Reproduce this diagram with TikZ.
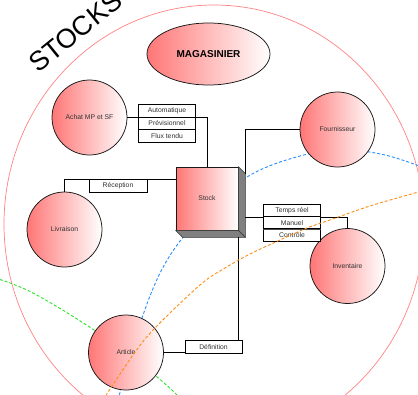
\documentclass[tikz,border=0pt]{standalone}
\usepackage{fontspec}
\setmainfont{Liberation Sans}
\usetikzlibrary{shapes.geometric}
\definecolor{pinkc}{RGB}{255,118,118}
\definecolor{ringc}{RGB}{255,130,130}
\definecolor{dblue}{RGB}{40,140,255}
\definecolor{dorange}{RGB}{255,140,20}
\definecolor{dgreen}{RGB}{40,230,40}
\definecolor{txtc}{RGB}{50,50,50}
\begin{document}
\begin{tikzpicture}[x=1pt,y=-1pt,
  bub/.style={circle,draw=black!90,line width=0.75pt,left color=pinkc,right color=white,
    minimum size=75pt,inner sep=0pt,font=\fontsize{6.8}{8}\selectfont,text=txtc},
  lbl/.style={rectangle,draw=black,fill=white,line width=0.7pt,minimum width=57pt,
    minimum height=12.4pt,inner sep=0pt,font=\fontsize{6.8}{8}\selectfont,text=txtc},
  conn/.style={line width=0.75pt,black},
  panel/.style={draw=black!80,fill=black!50,line width=0.6pt,line join=round},
  dsh/.style={line width=0.9pt,dash pattern=on 3pt off 2pt},
  ring/.style={draw=ringc,line width=0.7pt}]
\useasboundingbox (0,0) rectangle (418,394);
\clip (0,0) rectangle (418,394);
% outer ring
\draw[ring] (214,224) ellipse [x radius=210pt, y radius=219pt];
\node[anchor=base west,rotate=39,font=\fontsize{27}{30}\selectfont,inner sep=0pt] (stocks) at (38,74) {STOCKS};
% background dashed arcs
\draw[dsh,dblue] plot[smooth,tension=0.6] coordinates {(118,400) (142,318) (166,262) (200,218) (247,177) (300,156) (345,150) (385,155) (422,167)};
\draw[dsh,dgreen] plot[smooth,tension=0.6] coordinates {(-5,278) (33,293) (97,332) (157,377) (182,400)};
% nodes
\node[ellipse,draw=black!90,line width=0.75pt,left color=pinkc,right color=white,minimum width=123pt,minimum height=62pt,inner sep=0pt,font=\bfseries\fontsize{10}{12}\selectfont] (mag) at (208.5,54) {MAGASINIER};
\node[bub] (achat) at (89.5,117.5) {Achat MP et SF};
\node[bub] (fourn) at (337.5,129.5) {Fournisseur};
\node[bub] (livraison) at (64.5,229.5) {Livraison};
\node[bub] (inv) at (347.5,266) {Inventaire};
\node[bub] (article) at (126,352.5) {Article};
\node[rectangle,draw=black!90,line width=0.75pt,left color=pinkc,right color=white,minimum width=62pt,minimum height=63pt,inner sep=0pt,font=\fontsize{6.8}{8}\selectfont,text=txtc] (stock) at (207,198.5) {Stock};
\draw[panel] (stock.north east) -- ++(7,7) -- ([shift={(7,7)}]stock.south east) -- (stock.south east) -- cycle;
\draw[panel] (stock.south west) -- ++(7,7) -- ([shift={(7,7)}]stock.south east) -- (stock.south east) -- cycle;
\coordinate (sidetop) at ([shift={(7,7)}]stock.north east);
\coordinate (sidein) at ([xshift=7pt,yshift=-18.5pt]stock.east);
\coordinate (botdef) at ([shift={(0,7)}]stock.south east);
\coordinate (recin) at ([yshift=-13pt]stock.north west);
% connectors
\draw[conn] (achat.east) -| (stock.north);
\draw[conn] (livraison.north) |- (recin);
\draw[conn] (fourn.west) -| (sidetop);
\draw[conn] (sidein) -| (inv.north);
\draw[conn] (article.east) -| (botdef);
% labels
\node[lbl] (auto) at (167,111) {Automatique};
\node[lbl] (prev) at (167,123.4) {Prévisionnel};
\node[lbl] (flux) at (167,135.8) {Flux tendu};
\node[lbl,minimum height=12.2pt] (temps) at (292,210.5) {Temps réel};
\node[lbl,minimum height=12.2pt] (manuel) at (292,222.8) {Manuel};
\node[lbl,minimum height=12.2pt] (controle) at (292,234.9) {Contrôle};
\draw[line width=1.5pt,black!70] (manuel.south west) -- (manuel.south east);
\node[lbl,minimum width=58pt,minimum height=13pt] (recep) at (118,185.8) {Réception};
\node[lbl,minimum height=12.6pt] (defin) at (213.5,347) {Définition};
% foreground dashed arc
\draw[dsh,dorange] plot[smooth,tension=0.6] coordinates {(103,400) (133,355) (155,328) (200,285) (225,268) (250,254) (280,240) (307,228) (330,220) (370,206) (422,191)};
\end{tikzpicture}
\end{document}
